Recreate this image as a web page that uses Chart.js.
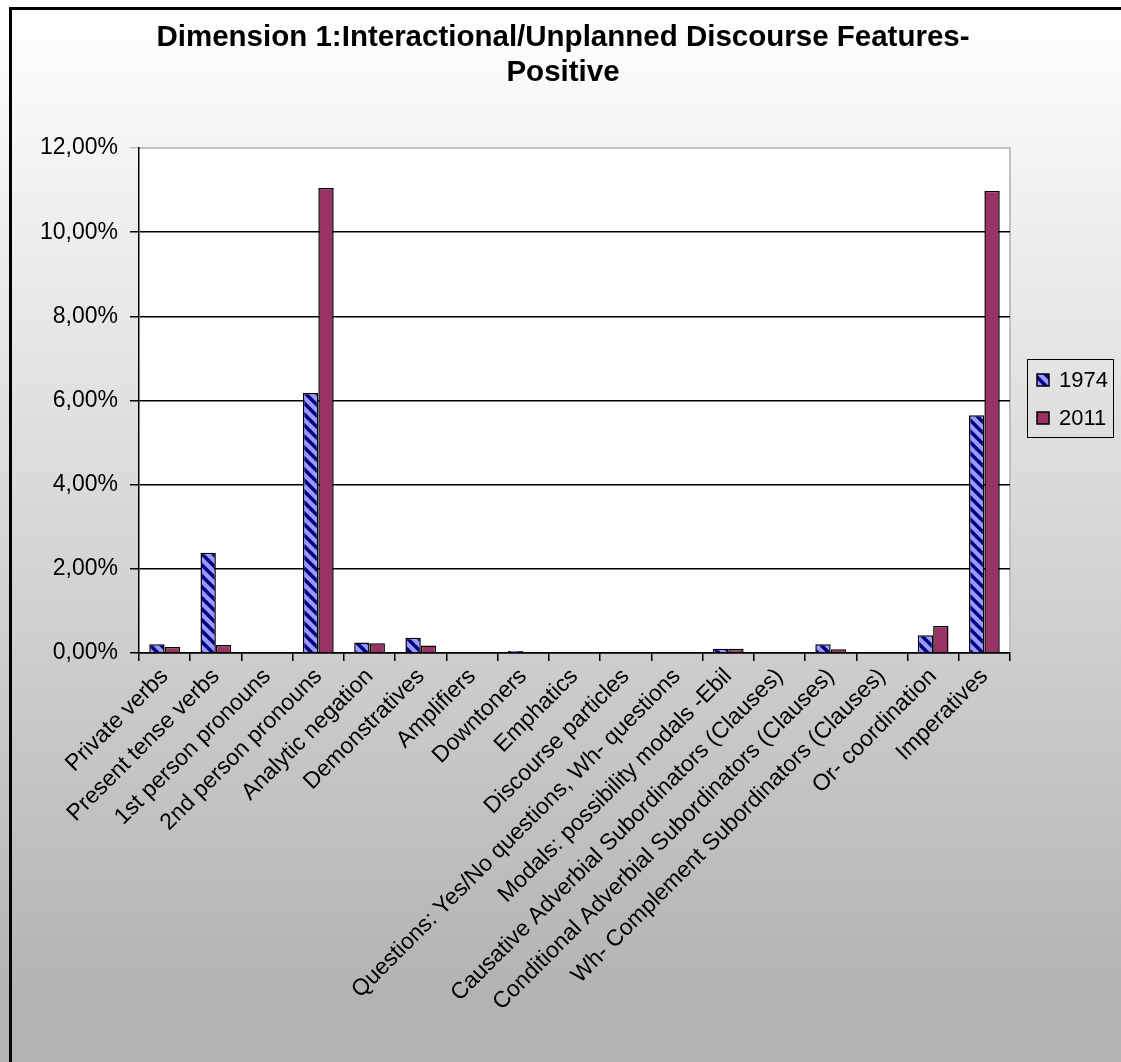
<!DOCTYPE html>
<html>
<head>
<meta charset="utf-8">
<script src="https://cdn.jsdelivr.net/npm/chart.js@4.4.1/dist/chart.umd.min.js"></script>
<style>
  html, body { margin: 0; padding: 0; background: #fff; }
  #wrap { width: 1121px; height: 1062px; }
</style>
</head>
<body>
<div id="wrap"><canvas id="chart" width="1121" height="1062"></canvas></div>
<script>
// Category labels along the x axis
const categories = [
  'Private verbs',
  'Present tense verbs',
  '1st person pronouns',
  '2nd person pronouns',
  'Analytic negation',
  'Demonstratives',
  'Amplifiers',
  'Downtoners',
  'Emphatics',
  'Discourse particles',
  'Questions: Yes/No questions, Wh- questions',
  'Modals: possibility modals -Ebil',
  'Causative Adverbial Subordinators (Clauses)',
  'Conditional Adverbial Subordinators (Clauses)',
  'Wh- Complement Subordinators (Clauses)',
  'Or- coordination',
  'Imperatives'
];

// Frequencies in percent
const values1974 = [0.21, 2.38, 0, 6.18, 0.25, 0.36, 0, 0.05, 0, 0, 0, 0.10, 0, 0.21, 0, 0.42, 5.65];
const values2011 = [0.14, 0.19, 0, 11.05, 0.23, 0.18, 0, 0, 0, 0, 0, 0.10, 0, 0.09, 0, 0.64, 10.98];

const seriesNames = ['1974', '2011'];
const yTicks = [0, 2, 4, 6, 8, 10, 12];
const titleLines = ['Dimension 1:Interactional/Unplanned Discourse Features-', 'Positive'];

const FONT = 'Arial, "Liberation Sans", sans-serif';

// Diagonal navy stripes on periwinkle for the 1974 series
function stripePattern() {
  const s = 11;
  const c = document.createElement('canvas');
  c.width = s; c.height = s;
  const g = c.getContext('2d');
  g.fillStyle = '#9999ff';
  g.fillRect(0, 0, s, s);
  g.strokeStyle = '#000080';
  g.lineWidth = 3.5;
  g.beginPath();
  for (let k = -1; k <= 1; k++) {
    g.moveTo(k * s - 2, -2);
    g.lineTo(k * s + s + 2, s + 2);
  }
  g.stroke();
  const ctx = document.getElementById('chart').getContext('2d');
  return ctx.createPattern(c, 'repeat');
}

const stripes = stripePattern();
const solidRed = '#993366';

// Background gradient, plot-area fill, outer frame
const backdrop = {
  id: 'backdrop',
  beforeDraw(chart) {
    const { ctx, chartArea: a } = chart;
    ctx.save();
    const grad = ctx.createLinearGradient(0, 8, 0, 1000);
    grad.addColorStop(0, '#ffffff');
    grad.addColorStop(1, '#b3b3b3');
    ctx.fillStyle = grad;
    ctx.fillRect(0, 0, chart.width, chart.height);
    ctx.fillStyle = '#ffffff';
    ctx.fillRect(a.left, a.top, a.right - a.left, a.bottom - a.top);
    // plot area border (grey)
    ctx.strokeStyle = '#c0c0c0';
    ctx.lineWidth = 2;
    ctx.beginPath();
    ctx.moveTo(a.left, a.top);
    ctx.lineTo(a.right, a.top);
    ctx.lineTo(a.right, a.bottom);
    ctx.stroke();
    // outer frame
    ctx.strokeStyle = '#000000';
    ctx.lineWidth = 3;
    ctx.beginPath();
    ctx.moveTo(10.5, chart.height + 5);
    ctx.lineTo(10.5, 8.5);
    ctx.lineTo(chart.width + 5, 8.5);
    ctx.stroke();
    ctx.restore();
  }
};

// Title and boxed legend
const annotations = {
  id: 'annotations',
  afterDraw(chart) {
    const { ctx } = chart;
    ctx.save();
    ctx.fillStyle = '#000';
    ctx.font = 'bold 29.5px ' + FONT;
    ctx.textAlign = 'center';
    ctx.textBaseline = 'alphabetic';
    ctx.fillText(titleLines[0], 563, 46);
    ctx.fillText(titleLines[1], 563, 81);

    // legend
    const lx = 1027, ly = 359, lw = 86, lh = 78;
    ctx.strokeStyle = '#000';
    ctx.lineWidth = 1;
    ctx.strokeRect(lx + 0.5, ly + 0.5, lw, lh);
    ctx.font = '22px ' + FONT;
    ctx.textAlign = 'left';
    ctx.textBaseline = 'middle';
    chart.data.datasets.forEach((ds, i) => {
      const cy = 380 + i * 38;
      ctx.fillStyle = ds.backgroundColor;
      ctx.fillRect(1037, cy - 6, 12, 12);
      ctx.strokeStyle = '#000';
      ctx.lineWidth = 1.5;
      ctx.strokeRect(1037, cy - 6, 12, 12);
      ctx.fillStyle = '#000';
      ctx.fillText(ds.label, 1059, cy + 1);
    });
    ctx.restore();
  }
};

new Chart(document.getElementById('chart'), {
  type: 'bar',
  data: {
    labels: categories,
    datasets: [
      { label: seriesNames[0], data: values1974, backgroundColor: stripes, borderColor: '#000', borderWidth: 1.5 },
      { label: seriesNames[1], data: values2011, backgroundColor: solidRed, borderColor: '#000', borderWidth: 1.5 }
    ]
  },
  options: {
    responsive: false,
    devicePixelRatio: 1,
    animation: false,
    layout: { padding: { top: 148, right: 111, left: 0, bottom: 0 } },
    datasets: { bar: { categoryPercentage: 0.6, barPercentage: 1.0 } },
    plugins: {
      legend: { display: false },
      title: { display: false },
      tooltip: { enabled: false }
    },
    scales: {
      x: {
        grid: { display: true, drawOnChartArea: false, drawTicks: true, tickLength: 8, color: '#000', lineWidth: 1.5, offset: true },
        border: { color: '#000', width: 1.5 },
        ticks: {
          autoSkip: false, minRotation: 45, maxRotation: 45, color: '#000',
          font: { family: FONT, size: 23 }, padding: 2
        },
        afterFit(s) { s.height = 409; }
      },
      y: {
        min: 0, max: 12,
        afterBuildTicks(s) { s.ticks = yTicks.map(v => ({ value: v })); },
        grid: {
          color: ctx => (ctx.tick && ctx.tick.value === 12 ? '#c0c0c0' : '#000'),
          lineWidth: 1.5, tickLength: 9, drawTicks: true
        },
        border: { color: '#000', width: 1.5 },
        ticks: {
          color: '#000', font: { family: FONT, size: 23 }, padding: 12,
          callback: v => v.toFixed(2).replace('.', ',') + '%'
        },
        afterFit(s) { s.width = 139; }
      }
    }
  },
  plugins: [backdrop, annotations]
});
</script>
</body>
</html>
